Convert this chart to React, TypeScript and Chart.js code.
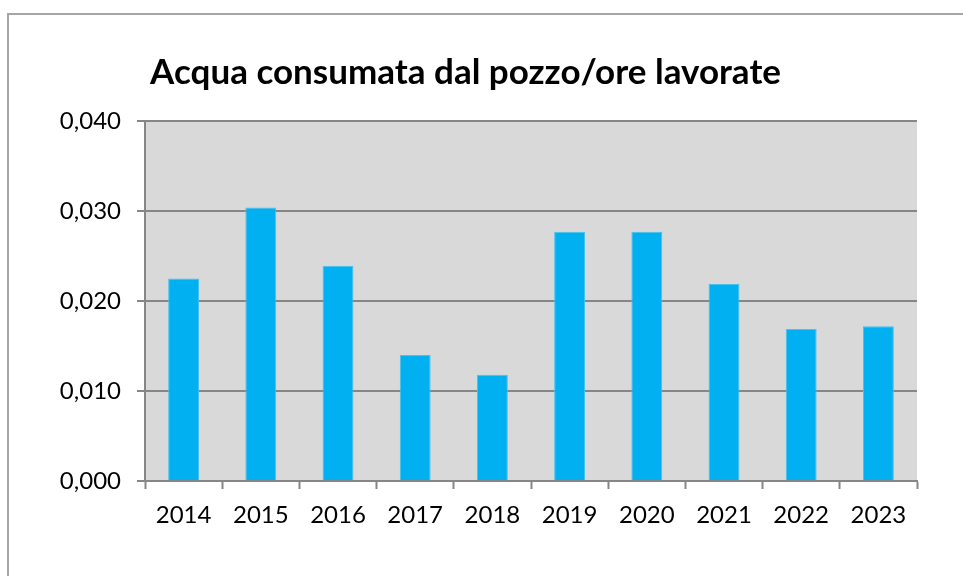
import React, { useEffect, useRef } from "react";
import { Chart, registerables } from "chart.js";

Chart.register(...registerables);

const categories = ["2014", "2015", "2016", "2017", "2018", "2019", "2020", "2021", "2022", "2023"];
const values = [0.0225, 0.0304, 0.0239, 0.014, 0.0118, 0.0277, 0.0277, 0.0219, 0.0169, 0.0172];
const titleText = "Acqua consumata dal pozzo/ore lavorate";

const FONT = "Lato, 'Open Sans', sans-serif";

const plotBg = {
  id: "plotBg",
  beforeDraw(chart: any) {
    const { ctx, chartArea } = chart;
    ctx.save();
    ctx.fillStyle = "#d9d9d9";
    ctx.fillRect(chartArea.left, chartArea.top, chartArea.right - chartArea.left, chartArea.bottom - chartArea.top);
    ctx.restore();
  },
};

export default function App() {
  const ref = useRef<HTMLCanvasElement | null>(null);
  useEffect(() => {
    document.body.style.overflow = "hidden";
    const chart = new Chart(ref.current as HTMLCanvasElement, {
      type: "bar",
      data: {
        labels: categories,
        datasets: [
          {
            data: values,
            backgroundColor: "#00b0f0",
            borderColor: "#45c2f0",
            borderWidth: 1,
            barPercentage: 0.4,
            categoryPercentage: 1,
          },
        ],
      },
      options: {
        animation: false,
        responsive: false,
        layout: { padding: { left: 14, right: 46, top: 0, bottom: 0 } },
        plugins: {
          legend: { display: false },
          tooltip: { enabled: false },
          title: {
            display: true,
            text: titleText,
            color: "#000",
            font: { family: FONT, size: 35, weight: "bold", lineHeight: 1.2 },
            padding: { top: 52, bottom: 27 },
          },
        },
        scales: {
          x: {
            offset: true,
            grid: {
              offset: true,
              drawOnChartArea: false,
              drawTicks: true,
              tickLength: 8,
              tickColor: "#868686",
              tickWidth: 2,
            },
            border: { display: true, color: "#868686", width: 2 },
            ticks: { color: "#000", font: { family: FONT, size: 24 }, padding: 12 },
            afterFit: (s: any) => {
              s.height = 95;
            },
          },
          y: {
            min: 0,
            max: 0.04,
            ticks: {
              stepSize: 0.01,
              color: "#000",
              font: { family: FONT, size: 24 },
              padding: 16,
              callback: (v: any) => Number(v).toFixed(3).replace(".", ","),
            },
            grid: {
              color: "#868686",
              lineWidth: 2,
              tickLength: 8,
              tickColor: "#868686",
            },
            border: { display: true, color: "#868686", width: 2 },
            afterFit: (s: any) => {
              s.width = 131;
            },
          },
        },
      },
      plugins: [plotBg],
    } as any);
    return () => chart.destroy();
  }, []);

  return (
    <div style={{ position: "fixed", left: 0, top: 0, width: 963, height: 576, overflow: "hidden", background: "#fff" }}>
      <div
        style={{
          position: "absolute",
          left: 7,
          top: 13,
          width: 1000,
          height: 600,
          border: "2px solid #a6a6a6",
          boxSizing: "border-box",
        }}
      />
      <canvas ref={ref} width={963} height={576} style={{ position: "absolute", left: 0, top: 0 }} />
    </div>
  );
}
